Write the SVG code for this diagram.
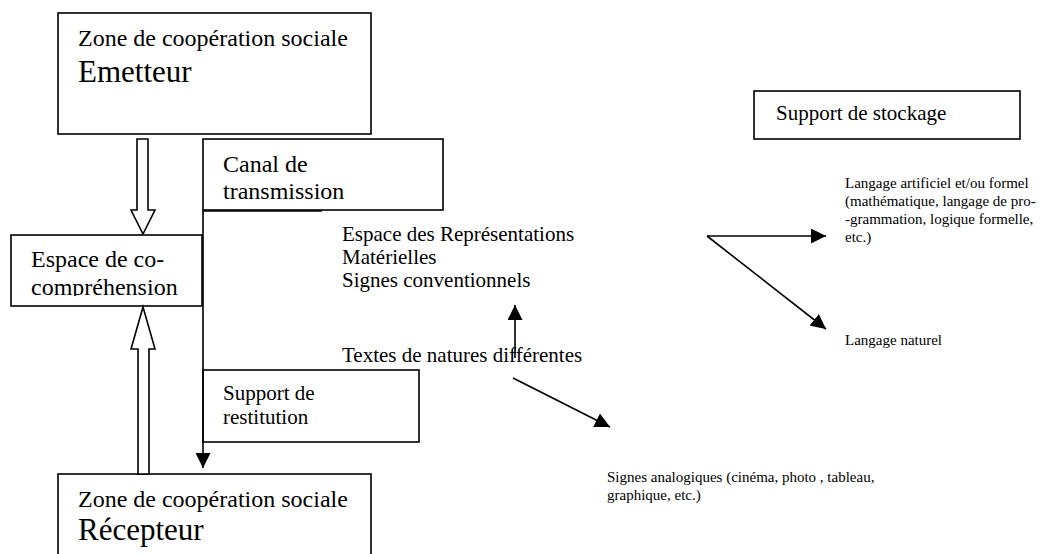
<svg xmlns="http://www.w3.org/2000/svg" width="1050" height="554" viewBox="0 0 1050 554">
<style>
.box{fill:#fff;stroke:#000;stroke-width:1.6}
.t{font-family:"Liberation Serif","Times New Roman",serif;fill:#000}
.l{stroke:#000;stroke-width:1.6;fill:none}
.hollow{fill:#fff;stroke:#000;stroke-width:1.6;stroke-linejoin:miter}
</style>
<defs>
<marker id="ah" viewBox="0 0 10 10" refX="10" refY="5" markerWidth="9.5" markerHeight="9.5" markerUnits="userSpaceOnUse" orient="auto">
<path d="M0,0 L10,5 L0,10 Z" fill="#000"/>
</marker>
<marker id="ah15" viewBox="0 0 10 10" refX="10" refY="5" markerWidth="15" markerHeight="15" markerUnits="userSpaceOnUse" orient="auto">
<path d="M0,0 L10,5 L0,10 Z" fill="#000"/>
</marker>
<clipPath id="clipEsp"><rect x="11" y="235" width="191" height="61"/></clipPath>
</defs>
<rect width="1050" height="554" fill="#fff"/>

<g id="emetteur">
<rect class="box" x="58" y="13" width="313" height="121"/>
<text class="t" x="78" y="46" font-size="24">Zone de coopération sociale</text>
<text class="t" x="78" y="82" font-size="31">Emetteur</text>
</g>

<g id="canal">
<rect class="box" x="203" y="139" width="240" height="71"/>
<text class="t" x="223" y="172" font-size="24">Canal de</text>
<text class="t" x="223" y="199" font-size="24">transmission</text>
</g>

<g id="espace-co">
<rect class="box" x="11" y="235" width="191" height="71"/>
<g clip-path="url(#clipEsp)">
<text class="t" x="31" y="267" font-size="24">Espace de co-</text>
<text class="t" x="31" y="295" font-size="24">compréhension</text>
</g>
</g>

<g id="restitution">
<rect class="box" x="203" y="370" width="216" height="72"/>
<text class="t" x="223" y="400" font-size="21">Support de</text>
<text class="t" x="223" y="424" font-size="21">restitution</text>
</g>

<g id="recepteur">
<rect class="box" x="58" y="474" width="313" height="90"/>
<text class="t" x="78" y="507" font-size="24">Zone de coopération sociale</text>
<text class="t" x="78" y="540" font-size="31">Récepteur</text>
</g>

<g id="stockage">
<rect class="box" x="754" y="91" width="266" height="48"/>
<text class="t" x="776" y="120" font-size="21">Support de stockage</text>
</g>

<g id="representations">
<text class="t" x="342" y="241" font-size="21">Espace des Représentations</text>
<text class="t" x="342" y="264" font-size="21">Matérielles</text>
<text class="t" x="342" y="287" font-size="21">Signes conventionnels</text>
</g>

<g id="textes">
<text class="t" x="342" y="362" font-size="21">Textes de natures différentes</text>
</g>

<g id="langage-artificiel">
<text class="t" x="845" y="188" font-size="15">Langage artificiel et/ou formel</text>
<text class="t" x="845" y="206" font-size="15">(mathématique, langage de pro-</text>
<text class="t" x="845" y="224" font-size="15">-grammation, logique formelle,</text>
<text class="t" x="845" y="242" font-size="15">etc.)</text>
</g>

<g id="langage-naturel">
<text class="t" x="845" y="345" font-size="15">Langage naturel</text>
</g>

<g id="signes-analogiques">
<text class="t" x="607" y="482" font-size="15">Signes analogiques (cinéma, photo , tableau,</text>
<text class="t" x="607" y="500" font-size="15">graphique, etc.)</text>
</g>

<g id="connectors">
<path class="hollow" d="M137,139 L148,139 L148,210 L155,210 L143,234 L131,210 L137,210 Z"/>
<path class="hollow" d="M143,307 L155,349 L149,349 L149,474 L138,474 L138,349 L131,349 Z"/>
<line class="l" x1="203" y1="210" x2="203" y2="468" marker-end="url(#ah15)"/>
<line class="l" x1="203" y1="211" x2="322" y2="211"/>
<line class="l" x1="515" y1="358" x2="515" y2="305" marker-end="url(#ah15)"/>
<line class="l" x1="513" y1="378" x2="610" y2="427" marker-end="url(#ah15)"/>
<line class="l" x1="707" y1="236" x2="826" y2="236" marker-end="url(#ah15)"/>
<line class="l" x1="707" y1="236" x2="826" y2="329" marker-end="url(#ah15)"/>
</g>
</svg>
